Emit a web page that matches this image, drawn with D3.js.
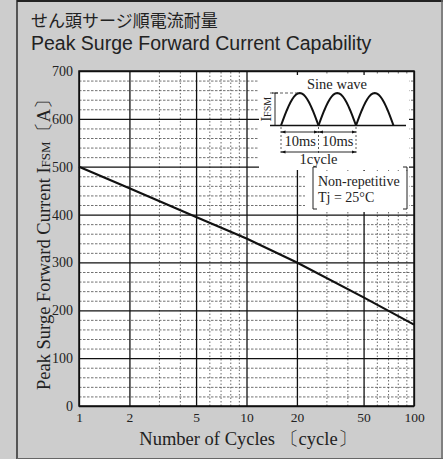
<!DOCTYPE html>
<html>
<head>
<meta charset="utf-8">
<script src="https://cdn.jsdelivr.net/npm/d3@7"></script>
<style>
  html, body { margin: 0; padding: 0; background: #cdcdcd; }
  svg { display: block; }
  .serif { font-family: "Liberation Serif", "DejaVu Serif", serif; fill: #222; }
</style>
</head>
<body>
<svg id="chart" width="443" height="459"></svg>
<script>
// data
var cycles = [1, 2, 5, 10, 20, 50, 100];
var ifsm = [500, 455, 395, 350, 300, 227, 170];

// ticks
var xMajor = [1, 2, 5, 10, 20, 50, 100];
var xMinor = [3, 4, 6, 7, 8, 9, 30, 40, 60, 70, 80, 90];
var yMajor = [0, 100, 200, 300, 400, 500, 600, 700];
var yMinor = d3.range(20, 700, 20).filter(function(v) { return v % 100 !== 0; });

// inset: sine wave half periods in ms
var halfPeriods = [0, 10, 20, 30];

var svg = d3.select("#chart");
var W = 443, H = 459;
var marginLeft = 79, marginTop = 71, width = 335, height = 335;

// frame
svg.append("rect").attr("width", W).attr("height", H).attr("fill", "#cdcdcd");
svg.append("line").attr("x1", 17).attr("x2", 17).attr("y1", 0).attr("y2", H)
   .attr("stroke", "#222").attr("stroke-width", 1.4);
svg.append("line").attr("x1", 17).attr("x2", W).attr("y1", 1).attr("y2", 1)
   .attr("stroke", "#222").attr("stroke-width", 2);
svg.append("line").attr("x1", W - 1).attr("x2", W - 1).attr("y1", 0).attr("y2", H)
   .attr("stroke", "#666").attr("stroke-width", 1.5);
svg.append("line").attr("x1", 17).attr("x2", W).attr("y1", H - 0.5).attr("y2", H - 0.5)
   .attr("stroke", "#666").attr("stroke-width", 1);

// titles
svg.append("text").attr("x", 31).attr("y", 27)
   .style("font-family", '"Noto Sans CJK JP", sans-serif').style("font-size", "17px").attr("fill", "#222")
   .text("せん頭サージ順電流耐量");
svg.append("text").attr("x", 31).attr("y", 50)
   .style("font-family", '"Liberation Sans", Arial, sans-serif').style("font-size", "19.5px").attr("fill", "#222")
   .text("Peak Surge Forward Current Capability");

var xScale = d3.scaleLog().domain([1, 100]).range([0, width]);
var yScale = d3.scaleLinear().domain([0, 700]).range([height, 0]);

var plot = svg.append("g").attr("transform", "translate(" + marginLeft + "," + marginTop + ")");
plot.append("rect").attr("width", width).attr("height", height).attr("fill", "#fff");

// minor grid
plot.append("g").attr("class", "grid-minor-y")
   .call(d3.axisLeft(yScale).tickValues(yMinor).tickSize(-width).tickFormat(""))
   .call(function(g) {
      g.select(".domain").remove();
      g.selectAll("line").attr("stroke", "#333").attr("stroke-width", 0.7).attr("stroke-dasharray", "2.5,1.5");
   });
plot.append("g").attr("class", "grid-minor-x")
   .attr("transform", "translate(0," + height + ")")
   .call(d3.axisBottom(xScale).tickValues(xMinor).tickSize(-height).tickFormat(""))
   .call(function(g) {
      g.select(".domain").remove();
      g.selectAll("line").attr("stroke", "#444").attr("stroke-width", 0.8).attr("stroke-dasharray", "1.5,2");
   });

// major grid
plot.append("g").attr("class", "grid-major-y")
   .call(d3.axisLeft(yScale).tickValues(yMajor).tickSize(-width).tickFormat(""))
   .call(function(g) {
      g.select(".domain").remove();
      g.selectAll("line").attr("stroke", "#111").attr("stroke-width", 1.3);
   });
plot.append("g").attr("class", "grid-major-x")
   .attr("transform", "translate(0," + height + ")")
   .call(d3.axisBottom(xScale).tickValues(xMajor).tickSize(-height).tickFormat(""))
   .call(function(g) {
      g.select(".domain").remove();
      g.selectAll("line").attr("stroke", "#111").attr("stroke-width", 1.3);
   });

plot.append("rect").attr("width", width).attr("height", height)
   .attr("fill", "none").attr("stroke", "#111").attr("stroke-width", 1.5);

// tick labels
plot.append("g")
   .attr("transform", "translate(0," + height + ")")
   .call(d3.axisBottom(xScale).tickValues(xMajor).tickSize(0).tickPadding(6).tickFormat(d3.format("d")))
   .call(function(g) {
      g.select(".domain").remove();
      g.selectAll("text").attr("class", "serif").style("font-size", "13.5px");
   });
plot.append("g")
   .call(d3.axisLeft(yScale).tickValues(yMajor).tickSize(0).tickPadding(6).tickFormat(d3.format("d")))
   .call(function(g) {
      g.select(".domain").remove();
      g.selectAll("text").attr("class", "serif").style("font-size", "14px");
   });

// curve
var points = cycles.map(function(c, i) { return { x: c, y: ifsm[i] }; });
plot.append("path")
   .datum(points)
   .attr("fill", "none")
   .attr("stroke", "#111")
   .attr("stroke-width", 2.2)
   .attr("d", d3.line().x(function(d) { return xScale(d.x); }).y(function(d) { return yScale(d.y); }));

// axis titles
var yt = svg.append("text").attr("class", "serif")
   .attr("transform", "translate(50,240) rotate(-90)")
   .attr("text-anchor", "middle")
   .style("font-size", "18.5px");
yt.append("tspan").text("Peak Surge Forward Current  I");
yt.append("tspan").style("font-size", "13px").text("FSM");
yt.append("tspan").text("〔A〕");

svg.append("text").attr("class", "serif")
   .attr("x", 248).attr("y", 445)
   .attr("text-anchor", "middle")
   .style("font-size", "18.5px")
   .text("Number of Cycles 〔cycle〕");

// inset: sine wave schematic
var inset = svg.append("g");
inset.append("rect").attr("x", 259).attr("y", 75).attr("width", 150).attr("height", 95).attr("fill", "#fff");
inset.append("rect").attr("x", 305).attr("y", 171).attr("width", 104).attr("height", 41).attr("fill", "#fff");

var defs = svg.append("defs");
defs.append("marker").attr("id", "ah").attr("viewBox", "0 0 10 10")
   .attr("refX", 10).attr("refY", 5).attr("markerWidth", 5).attr("markerHeight", 5)
   .attr("orient", "auto-start-reverse")
   .append("path").attr("d", "M0,1.5 L10,5 L0,8.5 Z").attr("fill", "#111");

var tScale = d3.scaleLinear().domain([0, 30]).range([281, 393.5]);
var aScale = d3.scaleLinear().domain([0, 1]).range([125.5, 93]);

inset.append("line").attr("x1", 270).attr("x2", 406).attr("y1", aScale(0)).attr("y2", aScale(0))
   .attr("stroke", "#111").attr("stroke-width", 1.3);

var sineLine = d3.line().x(function(d) { return tScale(d[0]); }).y(function(d) { return aScale(d[1]); });
d3.pairs(halfPeriods).forEach(function(p) {
   var pts = d3.range(0, 1.0001, 0.05).map(function(f) {
      return [p[0] + f * (p[1] - p[0]), Math.sin(Math.PI * f)];
   });
   inset.append("path").attr("d", sineLine(pts)).attr("fill", "none")
      .attr("stroke", "#111").attr("stroke-width", 2);
});

// peak dashed reference and IFSM dimension
inset.append("line").attr("x1", 270).attr("x2", tScale(5)).attr("y1", aScale(1)).attr("y2", aScale(1))
   .attr("stroke", "#333").attr("stroke-width", 0.8).attr("stroke-dasharray", "3,2");
inset.append("line").attr("x1", 275).attr("x2", 275).attr("y1", aScale(1)).attr("y2", aScale(0))
   .attr("stroke", "#111").attr("stroke-width", 0.9);
[aScale(1), aScale(0)].forEach(function(y) {
   inset.append("line").attr("x1", 272).attr("x2", 278).attr("y1", y).attr("y2", y)
      .attr("stroke", "#111").attr("stroke-width", 0.9);
});
var ifsmLabel = inset.append("text").attr("class", "serif")
   .attr("transform", "translate(271," + ((aScale(0) + aScale(1)) / 2) + ") rotate(-90)")
   .attr("text-anchor", "middle")
   .style("font-size", "14px");
ifsmLabel.append("tspan").text("I");
ifsmLabel.append("tspan").style("font-size", "10px").text("FSM");

// time dimension marks
halfPeriods.slice(0, 3).forEach(function(t) {
   inset.append("line").attr("x1", tScale(t)).attr("x2", tScale(t)).attr("y1", 127).attr("y2", 155)
      .attr("stroke", "#333").attr("stroke-width", 0.8).attr("stroke-dasharray", "2,2");
});
[[0, 10], [10, 20]].forEach(function(r) {
   inset.append("line").attr("x1", tScale(r[0])).attr("x2", tScale(r[1])).attr("y1", 132).attr("y2", 132)
      .attr("stroke", "#111").attr("stroke-width", 0.9)
      .attr("marker-start", "url(#ah)").attr("marker-end", "url(#ah)");
   inset.append("text").attr("class", "serif")
      .attr("x", (tScale(r[0]) + tScale(r[1])) / 2 + 0.5).attr("y", 146)
      .attr("text-anchor", "middle").style("font-size", "14.5px").text("10ms");
});
inset.append("line").attr("x1", tScale(0)).attr("x2", tScale(20)).attr("y1", 152).attr("y2", 152)
   .attr("stroke", "#111").attr("stroke-width", 0.9)
   .attr("marker-start", "url(#ah)").attr("marker-end", "url(#ah)");
inset.append("text").attr("class", "serif")
   .attr("x", tScale(10)).attr("y", 164)
   .attr("text-anchor", "middle").style("font-size", "14.5px").text("1cycle");

inset.append("text").attr("class", "serif")
   .attr("x", 337).attr("y", 89)
   .attr("text-anchor", "middle").style("font-size", "14.5px").text("Sine wave");

// condition note with brackets
inset.append("path").attr("d", "M317,167 L313,167 L313,209 L317,209")
   .attr("fill", "none").attr("stroke", "#222").attr("stroke-width", 1);
inset.append("path").attr("d", "M403,167 L407,167 L407,209 L403,209")
   .attr("fill", "none").attr("stroke", "#222").attr("stroke-width", 1);
inset.append("text").attr("class", "serif")
   .attr("x", 318).attr("y", 186).style("font-size", "14px").text("Non-repetitive");
inset.append("text").attr("class", "serif")
   .attr("x", 318).attr("y", 202).style("font-size", "14px").text("Tj = 25°C");
</script>
</body>
</html>
